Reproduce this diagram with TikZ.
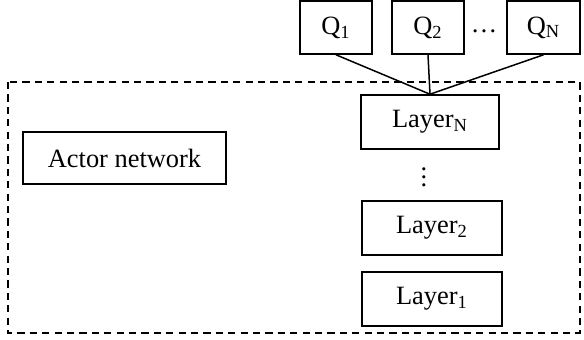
\documentclass[tikz,border=0pt]{standalone}
\usepackage{fontspec}
\setmainfont{Liberation Serif}
\usetikzlibrary{positioning}

\begin{document}
\begin{tikzpicture}
 [line cap=butt,line join=miter,x=0.5pt,y=-0.5pt,
 box/.style={draw,line width=0.8pt,inner sep=0pt,anchor=center,
   font=\fontsize{13.2}{15}\selectfont},
 link/.style={line width=0.75pt},
 frame/.style={dashed,line width=0.8pt,dash pattern=on 3.6pt off 2.6pt}]
\useasboundingbox (0,0) rectangle (584,339);

%the dashed frame round the network
\draw [frame] (8,82) rectangle (580,333);

\node[box,minimum width=101.5pt,minimum height=26pt] (actor) at (124.5,158) {Actor network};

\node[box,minimum width=36pt,minimum height=26.5pt] (q1) at (336,27.5) {Q\textsubscript{1}};
\node[box,minimum width=36pt,minimum height=26.5pt] (q2) at (428,27.5) {Q\textsubscript{2}};
\node[box,minimum width=36.5pt,minimum height=26.5pt] (qn) at (543.5,27.5) {Q\textsubscript{N}};
\node[anchor=center,font=\fontsize{13.2}{15}\selectfont] (qdots) at (484,31) {\dots};

\node[box,minimum width=69pt,minimum height=27pt] (layern) at (430,122) {Layer\textsubscript{N}};
\node[anchor=center,font=\fontsize{13.2}{15}\selectfont] (ldots) at (424,171) {$\vdots$};
\node[box,minimum width=70pt,minimum height=27pt] (layer2) at (432,228) {Layer\textsubscript{2}};
\node[box,minimum width=70pt,minimum height=27pt] (layer1) at (432,299) {Layer\textsubscript{1}};

\draw [link] (q1.south) -- (layern.north);
\draw [link] (q2.south) -- (layern.north);
\draw [link] (qn.south) -- (layern.north);

\end{tikzpicture}
\end{document}
